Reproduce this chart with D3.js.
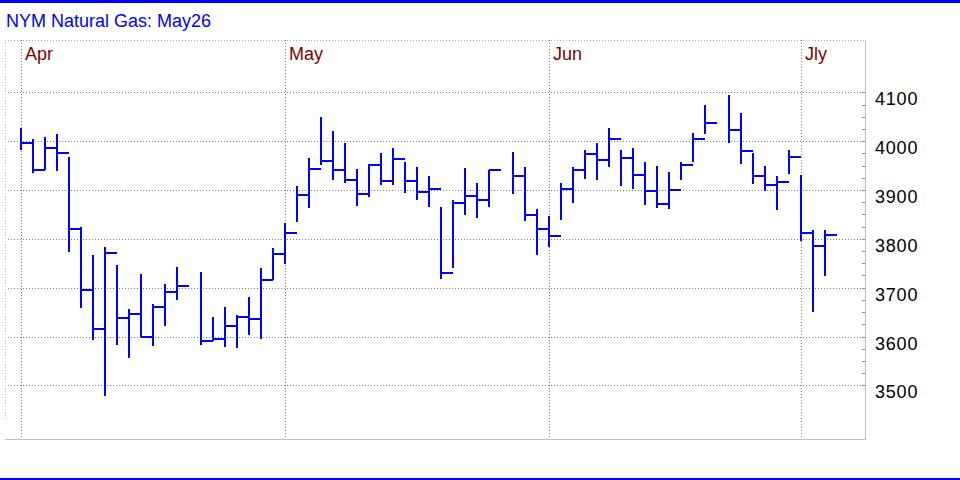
<!DOCTYPE html>
<html>
<head>
<meta charset="utf-8">
<script src="https://cdn.jsdelivr.net/npm/d3@7"></script>
<style>
  html, body { margin: 0; padding: 0; background: #fff; }
  svg { display: block; }
  text { font-family: "Liberation Sans", Arial, sans-serif; }
</style>
</head>
<body>
<svg id="chart" width="960" height="480"></svg>
<script>
// ---- Data (trading-day slots from 2025-03-31; null = exchange holiday) ----
const title = "NYM Natural Gas: May26";
const monthNames = ["Jan","Feb","Mar","Apr","May","Jun","Jly","Aug","Sep","Oct","Nov","Dec"];
const startDay = new Date(2025, 2, 31);
const endDay = new Date(2025, 6, 3);
const highs = [4026,4005,4008,4015,3967,3825,3766,3784,3747,3657,3729,3667,3708,3743,null,
  3733,3641,3661,3644,3680,3741,3782,3833,3909,3965,4049,4020,3996,3942,3954,3975,3985,3958,3948,3928,
  3865,3880,3946,3915,3941,null,3977,3948,3862,3846,3915,3948,3981,3997,4026,3981,3985,3958,3950,3936,
  3958,4016,4075,null,4094,4057,3975,3950,3928,3981,3930,3818,3818];
const lows = [3982,3935,3941,3939,3773,3658,3592,3479,3583,3557,3600,3581,3621,3674,null,
  3583,3590,3579,3577,3604,3594,3716,3749,3835,3864,3951,3920,3914,3867,3885,3910,3910,3893,3879,3865,
  3717,3740,3848,3842,3865,null,3891,3836,3766,3783,3838,3873,3922,3920,3947,3908,3902,3869,3864,3861,
  3920,3958,4014,null,3996,3954,3912,3898,3860,3932,3795,3651,3724];
const closes = [3996,3941,3985,3975,3820,3695,3616,3772,3637,3646,3600,3660,3691,3703,null,
  3590,3594,3621,3641,3635,3716,3768,3811,3889,3942,3959,3941,3920,3891,3951,3918,3963,3918,3895,3903,
  3731,3873,3887,3879,3941,null,3928,3848,3820,3805,3902,3941,3973,3961,4004,3965,3931,3898,3872,3901,
  3951,4004,4037,null,4023,3980,3928,3910,3917,3967,3811,3785,3807];
const priceTicks = [3500,3600,3700,3800,3900,4000,4100];
const minorTicks = d3.range(3500, 4101, 25);

// ---- Layout ----
const W = 960, H = 480;
const plot = {left: 5, right: 865, top: 40, bottom: 440};
const barColor = "#0000ff";

const days = d3.timeDays(startDay, endDay).filter(d => d.getDay() !== 0 && d.getDay() !== 6);
const bars = days.map((d, i) => ({date: d, i, high: highs[i], low: lows[i], close: closes[i]}));

const x = d3.scaleLinear().domain([0, days.length - 1]).range([21, 21 + 12 * (days.length - 1)]);
const step = x(1) - x(0);
const y = d3.scaleLinear().domain([3500, 4100]).range([385.4, 92.3]);
const cy = v => Math.round(y(v));

const svg = d3.select("#chart");
svg.append("rect").attr("width", W).attr("height", H).attr("fill", "#fff");

// top & bottom blue rules
svg.append("rect").attr("x", 0).attr("y", 0).attr("width", W).attr("height", 3).attr("fill", "#0000ff");
svg.append("rect").attr("x", 0).attr("y", 478).attr("width", W).attr("height", 2).attr("fill", "#0000ff");

// title
svg.append("text").attr("x", 6).attr("y", 27).attr("fill", "#0000ff")
  .attr("font-size", "18px").text(title);

// plot frame
const frame = svg.append("g").attr("shape-rendering", "crispEdges");
frame.append("line").attr("x1", plot.left).attr("x2", plot.right).attr("y1", plot.top + 0.5).attr("y2", plot.top + 0.5)
  .attr("stroke", "#aaa").attr("stroke-dasharray", "1,2");
frame.append("line").attr("x1", plot.left + 0.5).attr("x2", plot.left + 0.5).attr("y1", plot.top).attr("y2", 421)
  .attr("stroke", "#bbb").attr("stroke-dasharray", "1,2");
frame.append("line").attr("x1", plot.right + 0.5).attr("x2", plot.right + 0.5).attr("y1", plot.top).attr("y2", plot.bottom)
  .attr("stroke", "#c0c0c0");
frame.append("line").attr("x1", plot.left).attr("x2", plot.right + 1).attr("y1", plot.bottom - 0.5).attr("y2", plot.bottom - 0.5)
  .attr("stroke", "#c0c0c0");

// horizontal grid
const grid = svg.append("g").attr("shape-rendering", "crispEdges");
grid.selectAll("line.h").data(priceTicks).join("line").attr("class", "h")
  .attr("x1", 8).attr("x2", 862)
  .attr("y1", d => cy(d) + 0.5).attr("y2", d => cy(d) + 0.5)
  .attr("stroke", "#808080").attr("stroke-dasharray", "1,2");

// month boundaries (last trading weekday of each month, plus first slot)
const monthMarks = [];
days.forEach((d, i) => {
  const next = d3.timeDay.offset(d, 1);
  if (i === 0 || (i < days.length - 1 && days[i + 1].getMonth() !== d.getMonth())) {
    const m = i === 0 ? next.getMonth() : days[i + 1].getMonth();
    monthMarks.push({i, label: monthNames[m]});
  }
});
grid.selectAll("line.v").data(monthMarks).join("line").attr("class", "v")
  .attr("x1", d => x(d.i) + 0.5).attr("x2", d => x(d.i) + 0.5)
  .attr("y1", plot.top).attr("y2", 437)
  .attr("stroke", "#808080").attr("stroke-dasharray", "1,2");
svg.selectAll("text.month").data(monthMarks).join("text").attr("class", "month")
  .attr("x", d => x(d.i) + 4).attr("y", 60)
  .attr("fill", "#800000").attr("font-size", "18px")
  .text(d => d.label);

// right axis: minor ticks + labels
const minorAxis = d3.axisRight(y).tickValues(minorTicks).tickSize(-3).tickFormat("");
const gMinor = svg.append("g").attr("transform", `translate(${plot.right},0)`).call(minorAxis);
gMinor.select(".domain").remove();
gMinor.selectAll(".tick").attr("transform", d => `translate(0,${cy(d) + 0.5})`);
gMinor.selectAll(".tick line").attr("stroke", "#888").attr("shape-rendering", "crispEdges");

const labelAxis = d3.axisRight(y).tickValues(priceTicks).tickSize(0).tickPadding(10).tickFormat(d3.format("d"));
const gAxis = svg.append("g").attr("transform", `translate(${plot.right},0)`).call(labelAxis);
gAxis.select(".domain").remove();
gAxis.selectAll(".tick").attr("transform", d => `translate(0,${cy(d)})`);
gAxis.selectAll(".tick text")
  .attr("fill", "#000").attr("font-size", "18px")
  .attr("font-family", "'Liberation Sans', Arial, sans-serif")
  .attr("letter-spacing", "0.8px")
  .attr("dy", "0.72em");

// OHLC-style bars (high-low line + close tick to the right)
const gBars = svg.append("g").attr("stroke", barColor).attr("stroke-width", 2).attr("shape-rendering", "crispEdges");
const valid = bars.filter(b => b.high != null);
gBars.selectAll("line.hl").data(valid).join("line").attr("class", "hl")
  .attr("x1", d => x(d.i)).attr("x2", d => x(d.i))
  .attr("y1", d => cy(d.high)).attr("y2", d => cy(d.low));
gBars.selectAll("line.cl").data(valid).join("line").attr("class", "cl")
  .attr("x1", d => x(d.i)).attr("x2", d => x(d.i) + step)
  .attr("y1", d => cy(d.close)).attr("y2", d => cy(d.close));
</script>
</body>
</html>
